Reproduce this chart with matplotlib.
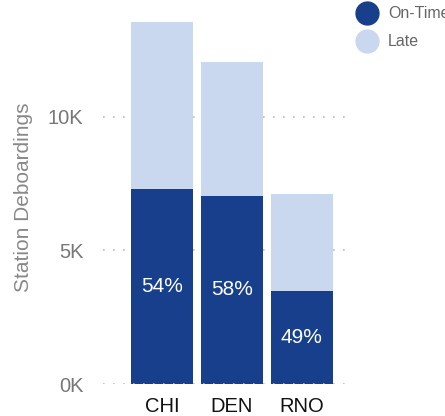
import matplotlib
matplotlib.use("Agg")
import matplotlib.pyplot as plt
from matplotlib.lines import Line2D

categories = ["CHI", "DEN", "RNO"]
on_time = [7300, 7040, 3480]
late = [6250, 5020, 3620]
pct_labels = ["54%", "58%", "49%"]
ytick_vals = [0, 5000, 10000]
ytick_labels = ["0K", "5K", "10K"]
legend_labels = ["On-Time", "Late"]

dark = "#173f8c"
light = "#cad8ef"
colors = [dark, light]

plt.rcParams['font.family'] = ['Liberation Sans', 'DejaVu Sans']

W, H = 445, 416
fig = plt.figure(figsize=(W / 100, H / 100), dpi=100)
ax_l, ax_r, ax_b, ax_t = 103, 353, 384, 10
ax = fig.add_axes([ax_l / W, 1 - ax_b / H, (ax_r - ax_l) / W, (ax_b - ax_t) / H])

x = list(range(len(categories)))
ax.bar(x, on_time, width=0.886, color=dark, zorder=2)
ax.bar(x, late, bottom=on_time, width=0.886, color=light, zorder=2)

for xi, v, lab in zip(x, on_time, pct_labels):
    ax.text(xi, v / 2, lab, ha="center", va="center", color="white", fontsize=15, zorder=4)

ax.set_xlim(-0.843, 2.73)
ax.set_ylim(0, 14000)
ax.set_yticks(ytick_vals)
ax.set_yticklabels(ytick_labels)
ax.set_xticks(x)
ax.set_xticklabels(categories)

for v in ytick_vals:
    ax.axhline(v, color="#bbbbbb", lw=1.2, linestyle=(0, (1, 5)), zorder=3 if v == 0 else 0)

for s in ax.spines.values():
    s.set_visible(False)
ax.tick_params(axis="y", length=0, pad=14, labelsize=14.5, labelcolor="#777777")
ax.tick_params(axis="x", length=0, pad=9, labelsize=14.5, labelcolor="#111111")
ax.set_ylabel("Station Deboardings", fontsize=15, color="#888888", labelpad=11)

# legend, drawn in figure pixel positions
for i, (lab, c) in enumerate(zip(legend_labels, colors)):
    yc = 13 + 28 * i
    fig.add_artist(Line2D([367 / W], [1 - yc / H], transform=fig.transFigure,
                          marker="o", markersize=16.5, color=c, linestyle=""))
    fig.text(388 / W, 1 - yc / H, lab, ha="left", va="center", fontsize=11.5, color="#666666")

fig.savefig("out.png", dpi=100)
